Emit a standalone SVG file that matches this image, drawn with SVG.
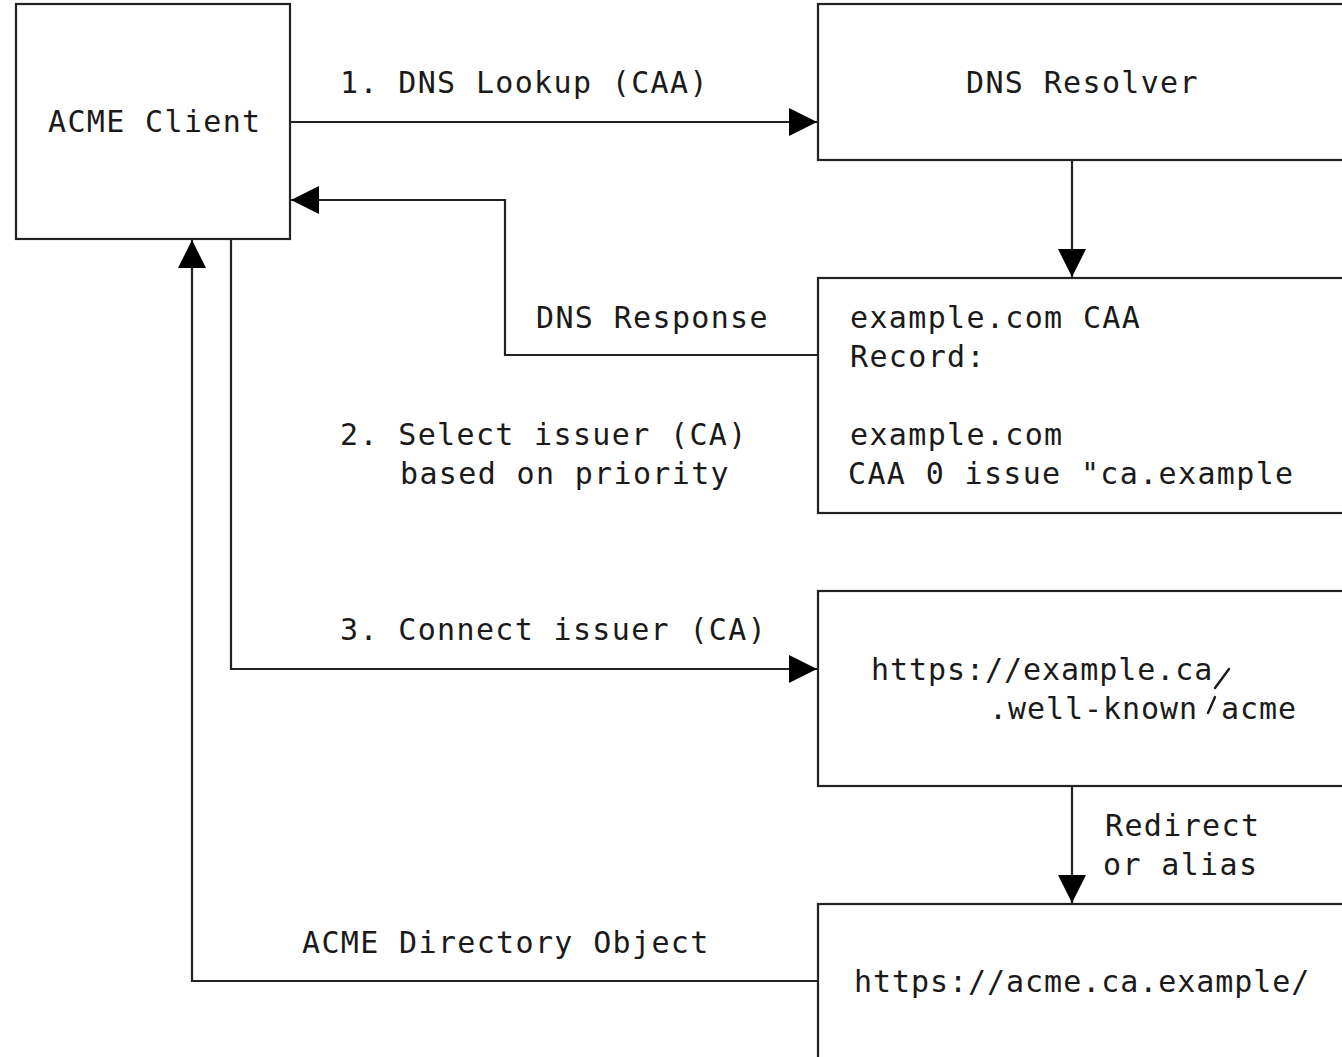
<svg xmlns="http://www.w3.org/2000/svg" width="1342" height="1057" viewBox="0 0 1342 1057">
<style>
.box{fill:#fff;stroke:#222;stroke-width:2.2}
.ln{fill:none;stroke:#222;stroke-width:2.2}
text{font-family:"DejaVu Sans Mono","Liberation Mono",monospace;font-size:30px;letter-spacing:1.35px;fill:#1a1a1a}
.url{letter-spacing:0.95px}
.sl{stroke:#1a1a1a;stroke-width:2.4;stroke-linecap:round}
</style>
<defs>
<marker id="ah" viewBox="0 0 28 28" refX="28" refY="14" markerWidth="28" markerHeight="28" markerUnits="userSpaceOnUse" orient="auto">
<path d="M0,0 L28,14 L0,28 Z" fill="#000"/>
</marker>
</defs>
<rect width="1342" height="1057" fill="#fff"/>
<g id="connectors">
<path class="ln" d="M290,122 H817" marker-end="url(#ah)"/>
<path class="ln" d="M1072,160 V277" marker-end="url(#ah)"/>
<path class="ln" d="M818,355 H505 V200 H291" marker-end="url(#ah)"/>
<path class="ln" d="M231,239 V669 H817" marker-end="url(#ah)"/>
<path class="ln" d="M1072,786 V903" marker-end="url(#ah)"/>
<path class="ln" d="M818,981 H192 V240" marker-end="url(#ah)"/>
<text x="340" y="93">1. DNS Lookup (CAA)</text>
<text x="536" y="328">DNS Response</text>
<text x="340" y="445">2. Select issuer (CA)</text>
<text x="400" y="484">based on priority</text>
<text x="340" y="640">3. Connect issuer (CA)</text>
<text x="1105" y="836">Redirect</text>
<text x="1103" y="875">or alias</text>
<text x="302" y="953">ACME Directory Object</text>
</g>
<g id="acme-client">
<rect class="box" x="16" y="4" width="274" height="235"/>
<text x="48" y="132">ACME Client</text>
</g>
<g id="dns-resolver">
<rect class="box" x="818" y="4" width="540" height="156"/>
<text x="966" y="93">DNS Resolver</text>
</g>
<g id="caa-record">
<rect class="box" x="818" y="278" width="540" height="235"/>
<text x="850" y="328">example.com CAA</text>
<text x="850" y="367">Record:</text>
<text x="850" y="445">example.com</text>
<text x="848" y="484">CAA 0 issue "ca.example</text>
</g>
<g id="well-known">
<rect class="box" x="818" y="591" width="540" height="195"/>
<text class="url" x="871" y="680">https://example.ca</text>
<text class="url" x="989" y="719">.well-known</text>
<text class="url" x="1221" y="719">acme</text>
<line class="sl" x1="1215" y1="688" x2="1229" y2="669"/>
<line class="sl" x1="1208" y1="713" x2="1215" y2="697"/>
</g>
<g id="acme-directory">
<rect class="box" x="818" y="904" width="540" height="170"/>
<text class="url" x="854" y="992">https://acme.ca.example/</text>
</g>
</svg>
